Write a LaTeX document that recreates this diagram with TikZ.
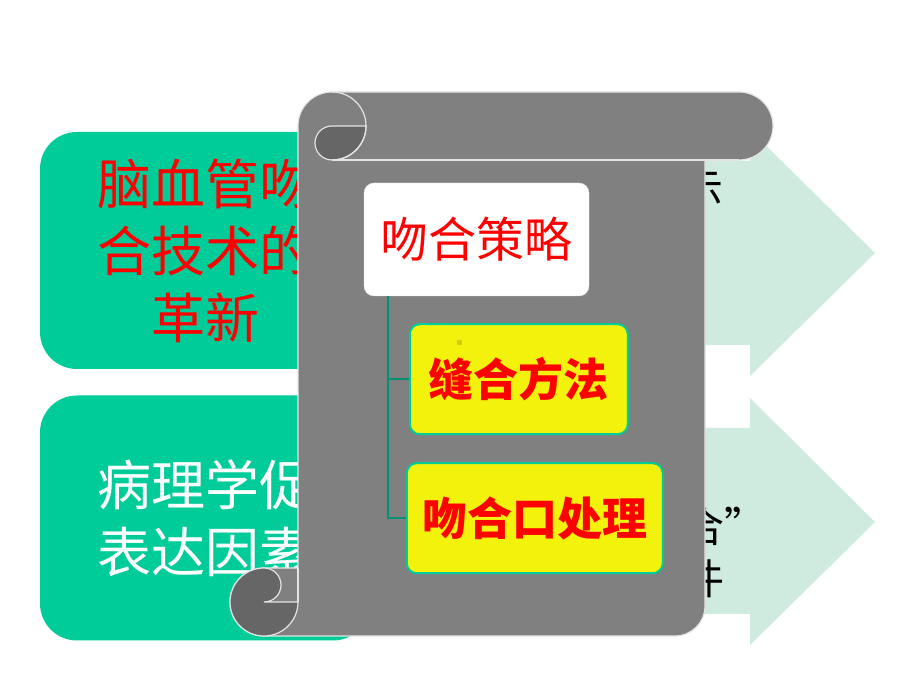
\documentclass[tikz,border=0pt]{standalone}
\usepackage{fontspec}
\newfontfamily\cjk{Noto Sans CJK SC}
\usetikzlibrary{positioning}
\definecolor{boxgreen}{RGB}{0,204,153}
\definecolor{paleteal}{RGB}{207,235,224}
\definecolor{scrollgray}{RGB}{128,128,128}
\definecolor{curlgray}{RGB}{102,102,102}
\definecolor{rimgray}{RGB}{228,228,228}
\definecolor{leafyellow}{RGB}{242,242,12}
\definecolor{linkteal}{RGB}{0,145,115}

\begin{document}
\begin{tikzpicture}[x=1pt, y=1pt,
    topic/.style={fill=boxgreen, rounded corners=37pt, minimum width=330pt, inner sep=0pt,
        font=\cjk\fontsize{54}{67}\selectfont},
    chevron/.style={fill=paleteal},
    backtext/.style={font=\cjk\fontsize{42}{46}\selectfont, inner sep=0pt},
    rim/.style={draw=rimgray, line width=1.2pt},
    root/.style={fill=white, draw=rimgray, rounded corners=10pt, minimum width=225pt,
        minimum height=113pt, inner sep=0pt, text=red, font=\cjk\fontsize{48}{52}\selectfont},
    leaf/.style={fill=leafyellow, draw=boxgreen, line width=2pt, rounded corners=10pt,
        minimum height=110pt, inner sep=0pt, text=red, font=\cjk\bfseries\fontsize{45}{50}\selectfont},
    link/.style={draw=linkteal, line width=2.5pt}]

    \useasboundingbox (0,0) rectangle (920,690);
    \fill[white] (0,0) rectangle (920,690);

    % green boxes on the left
    \node[topic, minimum height=237pt, text=red, align=center] (renew) at (205,439.5)
        {脑血管吻\\合技术的\\革新};
    \node[topic, minimum height=245pt, text=white, align=left] (cause) at (205,172)
        {病理学促\\表达因素};

    % pale arrows on the right
    \fill[chevron] (600,345) -- (750,345) -- (750,314) -- (875,437) -- (750,560) -- (750,529) -- (600,529) -- cycle;
    \fill[chevron] (600,76) -- (750,76) -- (750,45) -- (875,168) -- (750,292) -- (750,262) -- (600,262) -- cycle;
    \node[backtext] (hintA) at (702,500) {示};
    \node[backtext, anchor=west] (hintB) at (682,164) {合”};
    \node[backtext, anchor=west] (hintC) at (682,111) {件};

    % the scroll
    \filldraw[fill=scrollgray, rim] (298,564) arc[start angle=180, end angle=90, radius=34]
        -- (739,598) arc[start angle=90, end angle=-90, radius=34]
        -- (705,530) -- (705,84) arc[start angle=0, end angle=-90, radius=30]
        -- (264,54) arc[start angle=270, end angle=180, radius=34]
        arc[start angle=180, end angle=90, radius=34] -- (298,122) -- cycle;
    \filldraw[fill=curlgray, rim] (332,564) arc[start angle=90, end angle=270, radius=17]
        arc[start angle=270, end angle=360, radius=34] -- cycle;
    \draw[rim] (332,598) arc[start angle=90, end angle=-90, radius=34];
    \draw[rim] (332,530) -- (739,530);
    \filldraw[fill=curlgray, rim] (264,122) arc[start angle=90, end angle=270, radius=34]
        arc[start angle=270, end angle=360, radius=34] -- (264,88)
        arc[start angle=-90, end angle=90, radius=17] -- cycle;
    \draw[rim] (298,122) -- (298,88);

    % tree on the scroll
    \node[root] (strategy) at (476.5,450.5) {吻合策略};
    \node[leaf, minimum width=218pt] (method) [below=27pt of strategy.south west, anchor=north west, xshift=45pt] {缝合方法};
    \node[leaf, minimum width=256pt] (joint) [below=27pt of method.south west, anchor=north west, xshift=-3pt] {吻合口处理};
    \fill[leafyellow!85!black] (457,345) rectangle (462,350);

    \coordinate (trunk) at ([xshift=24pt]strategy.south west);
    \draw[link] (trunk) |- (method.west);
    \draw[link] (trunk) |- (joint.west);
\end{tikzpicture}
\end{document}
